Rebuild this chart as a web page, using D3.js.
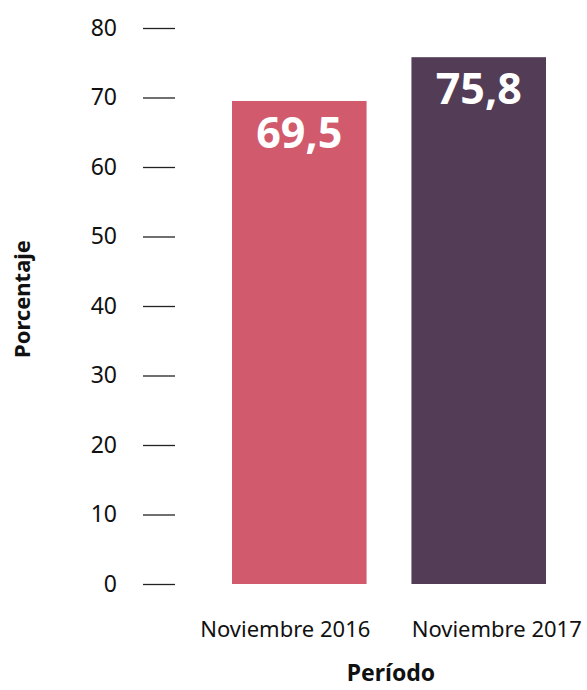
<!DOCTYPE html>
<html lang="es">
  <head>
    <meta charset="utf-8">
    <title>Porcentaje por período</title>
    <script src="https://cdn.jsdelivr.net/npm/d3@7/dist/d3.min.js"></script>
    <style>
      body { margin: 0; background: #fff; }
      text { font-family: "Noto Sans", "DejaVu Sans", sans-serif; fill: #111; }
      .tick line { stroke: #222; stroke-width: 1.3px; }
    </style>
  </head>
  <body>
    <script>
      var periods = ["Noviembre 2016", "Noviembre 2017"];
      var values = [69.5, 75.8];
      var valueLabels = ["69,5", "75,8"];
      var barColors = ["#d15b6d", "#523c56"];
      var yTicks = [0, 10, 20, 30, 40, 50, 60, 70, 80];

      var width = 587, height = 690;

      var svg = d3.select("body")
                  .append("svg")
                  .attr("width", width)
                  .attr("height", height);

      var x = d3.scaleBand()
                .domain(periods)
                .range([232, 546])
                .paddingInner(0.25);

      var y = d3.scaleLinear()
                .domain([0, 80])
                .range([584, 28]);

      // Y axis: short tick marks, labels set well off to the left
      var yAxis = svg.append("g")
         .attr("transform", "translate(175,0)")
         .call(d3.axisLeft(y).tickValues(yTicks).tickSize(32).tickPadding(26));
      yAxis.select(".domain").remove();
      yAxis.selectAll("text")
           .style("font-size", "23px")
           .style("font-family", "'Noto Sans', sans-serif")
           .attr("fill", "#111");

      var data = periods.map(function(p, i) {
        return {period: p, value: values[i], label: valueLabels[i], color: barColors[i]};
      });

      svg.append("g")
         .selectAll("rect")
         .data(data)
         .enter()
         .append("rect")
            .attr("x", function(d) { return x(d.period); })
            .attr("y", function(d) { return y(d.value); })
            .attr("width", x.bandwidth())
            .attr("height", function(d) { return y(0) - y(d.value); })
            .style("fill", function(d) { return d.color; });

      // value labels inside bars
      svg.append("g")
         .selectAll("text")
         .data(data)
         .enter()
         .append("text")
            .attr("x", function(d) { return x(d.period) + x.bandwidth() / 2; })
            .attr("y", function(d) { return y(d.value) + 47; })
            .attr("text-anchor", "middle")
            .style("font-size", "43px")
            .style("font-weight", "bold")
            .style("fill", "#fff")
            .text(function(d) { return d.label; });

      // category labels, nudged apart so they don't run into each other
      var labelShift = [-14, 18];
      svg.append("g")
         .selectAll("text")
         .data(data)
         .enter()
         .append("text")
            .attr("x", function(d, i) { return x(d.period) + x.bandwidth() / 2 + labelShift[i]; })
            .attr("y", 637)
            .attr("text-anchor", "middle")
            .style("font-size", "22px")
            .text(function(d) { return d.period; });

      svg.append("text")
         .attr("x", 391)
         .attr("y", 681)
         .attr("text-anchor", "middle")
         .style("font-size", "23px")
         .style("font-weight", "bold")
         .text("Período");

      svg.append("text")
         .attr("transform", "translate(30,299) rotate(-90)")
         .attr("text-anchor", "middle")
         .style("font-size", "22px")
         .style("font-weight", "bold")
         .text("Porcentaje");
    </script>
  </body>
</html>
